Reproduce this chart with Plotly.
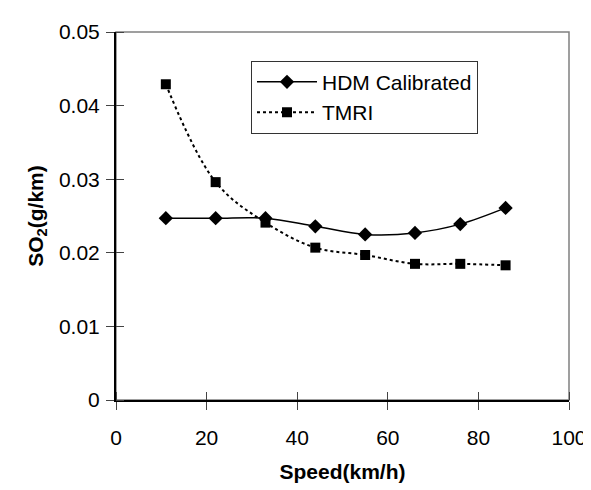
import plotly.graph_objects as go

speed = [11, 22, 33, 44, 55, 66, 76, 86]
hdm_calibrated = [0.0247, 0.0247, 0.0247, 0.0236, 0.0225, 0.0227, 0.0239, 0.0261]
tmri = [0.0429, 0.0296, 0.0241, 0.0207, 0.0197, 0.0185, 0.0185, 0.0183]

FONT = "Liberation Sans, Arial, sans-serif"

fig = go.Figure()
fig.add_trace(go.Scatter(
    x=speed, y=hdm_calibrated, name="HDM Calibrated", mode="lines+markers",
    line=dict(color="black", width=1.5, shape="spline", smoothing=1),
    marker=dict(symbol="diamond", size=11, color="black"),
))
fig.add_trace(go.Scatter(
    x=speed, y=tmri, name="TMRI", mode="lines+markers",
    line=dict(color="black", width=2, dash="dot", shape="spline", smoothing=1),
    marker=dict(symbol="square", size=10, color="black"),
))

fig.add_shape(type="rect", xref="paper", yref="paper", x0=0, y0=0, x1=1, y1=1,
              line=dict(color="#808080", width=1.5), layer="below")

fig.update_layout(
    width=591, height=490,
    margin=dict(l=108, r=30, t=19, b=98),
    paper_bgcolor="white", plot_bgcolor="white",
    font=dict(family=FONT, size=21, color="black"),
    showlegend=True,
    legend=dict(
        x=0.298, y=0.922, xanchor="left", yanchor="top",
        bordercolor="#333333", borderwidth=1, bgcolor="white",
        font=dict(family=FONT, size=21, color="black"),
        itemwidth=60,
    ),
    xaxis=dict(
        range=[0, 100], dtick=20, tick0=0,
        showgrid=False, zeroline=False,
        showline=True, linecolor="black", linewidth=2,
        ticks="outside", ticklen=8, tickcolor="#444444", tickwidth=1,
        minor=dict(ticks="inside", ticklen=8, dtick=20, tick0=0, tickcolor="#444444", showgrid=False),
        tickfont=dict(size=21),
        ticklabelstandoff=10,
        title=dict(text="<b>Speed(km/h)</b>", font=dict(size=21), standoff=16),
    ),
    yaxis=dict(
        range=[0, 0.05], dtick=0.01, tick0=0,
        showgrid=False, zeroline=False,
        showline=True, linecolor="black", linewidth=2,
        ticks="outside", ticklen=8, tickcolor="#444444", tickwidth=1,
        minor=dict(ticks="inside", ticklen=8, dtick=0.01, tick0=0, tickcolor="#444444", showgrid=False),
        tickfont=dict(size=21),
        ticklabelstandoff=2,
        title=dict(text="<b>SO<sub>2</sub>(g/km)</b>", font=dict(size=21), standoff=10),
    ),
)

fig.write_html("out.html")
